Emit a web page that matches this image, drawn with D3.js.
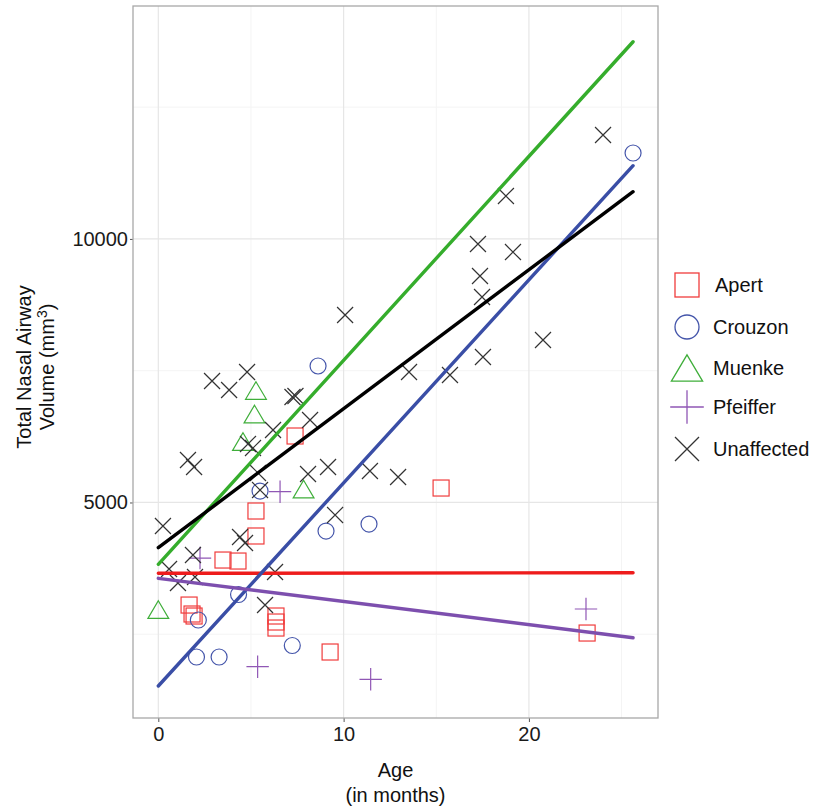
<!DOCTYPE html>
<html><head><meta charset="utf-8">
<script src="https://cdn.jsdelivr.net/npm/d3@7"></script>
<style>body{margin:0;background:#fff}svg{display:block}</style>
</head><body>
<svg id="c" width="818" height="808"></svg>
<script>
const groups = ["Apert","Crouzon","Muenke","Pfeiffer","Unaffected"];
const colors = ["#f03c3c","#4455aa","#3fae3a","#9057b5","#333333"];
const lineColors = ["#ee1c1c","#3a4ea6","#35ad2c","#7d4fae","#000000"];
const xTicks = [0,10,20];
const yTicks = [5000,10000];

const apertAge = [7.38,15.26,5.27,5.27,3.49,4.30,1.66,1.82,1.93,6.35,6.35,6.35,9.27,23.14];
const apertVol = [6261,5274,4838,4364,3908,3889,3054,2884,2846,2846,2732,2618,2163,2523];
const crouzonAge = [25.62,8.62,5.49,9.05,11.37,4.33,2.16,2.06,3.28,7.23];
const crouzonVol = [11630,7589,5217,4458,4591,3254,2770,2068,2068,2286];
const muenkeAge = [0,5.27,5.19,4.57,7.84];
const muenkeVol = [2969,7124,6678,6156,5255];
const pfeifferAge = [2.25,6.57,5.36,11.46,23.08];
const pfeifferVol = [3946,5204,1884,1645,2979];
const unaffAge = [24.0,18.76,17.25,19.14,17.36,17.47,20.76,17.52,15.74,13.53,10.08,4.79,2.90,3.82,7.24,7.40,8.19,6.19,4.84,5.11,5.38,1.60,1.93,8.08,9.16,11.42,12.94,9.54,0.25,4.41,4.68,1.87,0.58,1.06,1.98,6.30,5.76,5.49];
const unaffVol = [11971,10814,9903,9751,9296,8898,8082,7759,7418,7475,8556,7475,7304,7133,7001,7020,6564,6375,6109,6033,5559,5805,5673,5540,5673,5597,5483,4762,4553,4345,4231,4003,3737,3472,3586,3681,3054,5236];

// fitted lines: value at age 0 and at age 25.62
const fitAgeEnd = 25.62;
const fitStart = [3656,1518,3827,3561,4142];
const fitEnd = [3667,11389,13741,2434,10896];

const ages = [apertAge,crouzonAge,muenkeAge,pfeifferAge,unaffAge];
const vols = [apertVol,crouzonVol,muenkeVol,pfeifferVol,unaffVol];

const svg = d3.select("#c");
const L=133,R=658,T=6,B=718;
const x = d3.scaleLinear().domain([-1.366,26.966]).range([L,R]);
const y = d3.scaleLinear().domain([911,14419]).range([B,T]);
const ff = "Liberation Sans, Arial, sans-serif";

// grid
const g = svg.append("g");
[5,15,25].forEach(v=>g.append("line").attr("x1",x(v)).attr("x2",x(v)).attr("y1",T).attr("y2",B).attr("stroke","#f4f4f4").attr("stroke-width",1));
[2500,7500,12500].forEach(v=>g.append("line").attr("x1",L).attr("x2",R).attr("y1",y(v)).attr("y2",y(v)).attr("stroke","#f4f4f4").attr("stroke-width",1));
xTicks.forEach(v=>g.append("line").attr("x1",x(v)).attr("x2",x(v)).attr("y1",T).attr("y2",B).attr("stroke","#e6e6e6").attr("stroke-width",1.2));
yTicks.forEach(v=>g.append("line").attr("x1",L).attr("x2",R).attr("y1",y(v)).attr("y2",y(v)).attr("stroke","#e6e6e6").attr("stroke-width",1.2));

// axes
const xa = svg.append("g").attr("transform",`translate(0,${B})`).call(d3.axisBottom(x).tickValues(xTicks).tickSize(4).tickPadding(5));
const ya = svg.append("g").attr("transform",`translate(${L},0)`).call(d3.axisLeft(y).tickValues(yTicks).tickSize(3).tickPadding(2).tickFormat(d3.format("d")));
[xa,ya].forEach(a=>{a.select(".domain").remove();a.selectAll("line").attr("stroke","#555");a.selectAll("text").attr("font-family",ff).attr("font-size",20).attr("fill","#1a1a1a");});

// symbols
function drawShape(sel, gi, s, sw){
  const c = colors[gi];
  if(gi===0){ sel.append("rect").attr("x",-s/2).attr("y",-s/2).attr("width",s).attr("height",s).attr("fill","none").attr("stroke",c).attr("stroke-width",sw); }
  else if(gi===1){ sel.append("circle").attr("r",s/2).attr("fill","none").attr("stroke",c).attr("stroke-width",sw); }
  else if(gi===2){ const w=s*1.3/2, h=s*1.1/2; sel.append("path").attr("d",`M0,${-h}L${w},${h}L${-w},${h}Z`).attr("fill","none").attr("stroke",c).attr("stroke-width",sw); }
  else if(gi===3){ const a=s*0.7; sel.append("path").attr("d",`M${-a},0H${a}M0,${-a}V${a}`).attr("fill","none").attr("stroke",c).attr("stroke-width",sw); }
  else { const a=s*0.5; sel.append("path").attr("d",`M${-a},${-a}L${a},${a}M${-a},${a}L${a},${-a}`).attr("fill","none").attr("stroke",c).attr("stroke-width",sw); }
}

// points
const pts = svg.append("g");
groups.forEach((gname,gi)=>{
  ages[gi].forEach((a,i)=>{
    const p = pts.append("g").attr("transform",`translate(${x(a)},${y(vols[gi][i])})`);
    drawShape(p, gi, 16, 1.2);
  });
});

// fit lines
const lines = svg.append("g");
groups.forEach((gname,gi)=>{
  lines.append("line").attr("x1",x(0)).attr("y1",y(fitStart[gi])).attr("x2",x(fitAgeEnd)).attr("y2",y(fitEnd[gi]))
    .attr("stroke",lineColors[gi]).attr("stroke-width",3.4).attr("stroke-linecap","round");
});

// panel border
svg.append("rect").attr("x",L).attr("y",T).attr("width",R-L).attr("height",B-T).attr("fill","none").attr("stroke","#a8a8a8").attr("stroke-width",1.3);

// titles
svg.append("text").attr("x",(L+R)/2).attr("y",777).attr("text-anchor","middle").attr("font-family",ff).attr("font-size",20).attr("fill","#111").text("Age");
svg.append("text").attr("x",(L+R)/2).attr("y",802).attr("text-anchor","middle").attr("font-family",ff).attr("font-size",20).attr("fill","#111").text("(in months)");
const yt = svg.append("g").attr("transform","translate(0,367) rotate(-90)");
yt.append("text").attr("x",0).attr("y",31).attr("text-anchor","middle").attr("font-family",ff).attr("font-size",20).attr("fill","#111").text("Total Nasal Airway");
const t2 = yt.append("text").attr("x",0).attr("y",54).attr("text-anchor","middle").attr("font-family",ff).attr("font-size",20).attr("fill","#111");
t2.append("tspan").text("Volume (mm");
t2.append("tspan").attr("dy",-7).attr("font-size",14).text("3");
t2.append("tspan").attr("dy",7).text(")");

// legend
const legY = [285,327,368,407,449];
const leg = svg.append("g");
groups.forEach((gname,gi)=>{
  const p = leg.append("g").attr("transform",`translate(687,${legY[gi]})`);
  drawShape(p, gi, 24, 1.3);
  leg.append("text").attr("x",gi===0?715:713).attr("y",legY[gi]).attr("dy","0.35em").attr("font-family",ff).attr("font-size",20).attr("fill","#111").text(gname);
});
</script>
</body></html>
